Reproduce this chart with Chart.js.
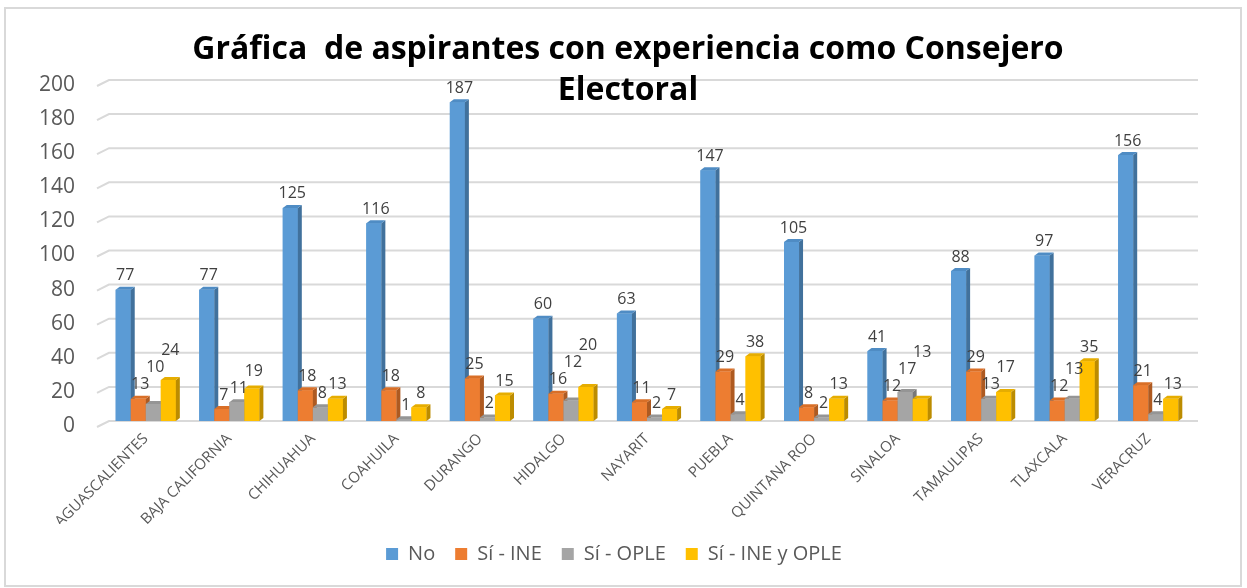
<!DOCTYPE html>
<html>
<head>
<meta charset="utf-8">
<script src="https://cdn.jsdelivr.net/npm/chart.js@4.4.1/dist/chart.umd.min.js"></script>
<style>
  html, body { margin: 0; padding: 0; background: #fff; }
  #wrap { position: relative; width: 1247px; height: 588px; }
</style>
</head>
<body>
<div id="wrap"><canvas id="grafica" width="1247" height="588"></canvas></div>
<script>
const estados = ['AGUASCALIENTES', 'BAJA CALIFORNIA', 'CHIHUAHUA', 'COAHUILA', 'DURANGO', 'HIDALGO',
  'NAYARIT', 'PUEBLA', 'QUINTANA ROO', 'SINALOA', 'TAMAULIPAS', 'TLAXCALA', 'VERACRUZ'];
const serieNo = [77, 77, 125, 116, 187, 60, 63, 147, 105, 41, 88, 97, 156];
const serieIne = [13, 7, 18, 18, 25, 16, 11, 29, 8, 12, 29, 12, 21];
const serieOple = [10, 11, 8, 1, 2, 12, 2, 4, 2, 17, 13, 13, 4];
const serieAmbos = [24, 19, 13, 8, 15, 20, 7, 38, 13, 13, 17, 35, 13];
const nombresSeries = ['No', 'Sí - INE', 'Sí - OPLE', 'Sí - INE y OPLE'];
const tituloLineas = ['Gráfica  de aspirantes con experiencia como Consejero', 'Electoral'];

const colores = ['#5B9BD5', '#ED7D31', '#A5A5A5', '#FFC000'];
const coloresLado = ['#41719C', '#AE5A21', '#787878', '#BC8C00'];
const coloresArriba = ['#4F8CC4', '#D96F27', '#959595', '#E6AD00'];
const FUENTE = "'Open Sans', 'Liberation Sans', sans-serif";

// marco gris alrededor de la grafica
const marco = {
  id: 'marco',
  beforeDraw(chart) {
    const ctx = chart.ctx;
    ctx.save();
    ctx.fillStyle = '#fff';
    ctx.fillRect(0, 0, chart.width, chart.height);
    ctx.strokeStyle = '#d9d9d9';
    ctx.lineWidth = 2;
    ctx.strokeRect(5, 8, 1236, 578);
    ctx.restore();
  }
};

// lineas de division con el pequeño quiebre 3D a la izquierda
const rejilla = {
  id: 'rejilla',
  beforeDatasetsDraw(chart) {
    const ctx = chart.ctx;
    const y = chart.scales.y;
    const area = chart.chartArea;
    ctx.save();
    ctx.strokeStyle = '#d9d9d9';
    ctx.lineWidth = 2;
    y.ticks.forEach(t => {
      const py = y.getPixelForValue(t.value);
      ctx.beginPath();
      ctx.moveTo(area.left - 7, py + 6);
      ctx.lineTo(area.left + 5, py);
      ctx.lineTo(area.right + 8, py);
      ctx.stroke();
    });
    ctx.restore();
  }
};

// barras con cara lateral y superior, dibujadas de izquierda a derecha
const barras3d = {
  id: 'barras3d',
  afterDatasetsDraw(chart) {
    const ctx = chart.ctx;
    const dx = 4, dy = 3;
    const metas = chart.data.datasets.map((d, i) => chart.getDatasetMeta(i));
    ctx.save();
    for (let j = 0; j < estados.length; j++) {
      metas.forEach((meta, i) => {
        const bar = meta.data[j];
        const l = bar.x - bar.width / 2, r = bar.x + bar.width / 2;
        const top = bar.y, base = bar.base;
        ctx.fillStyle = colores[i];
        ctx.fillRect(l, top, r - l, base - top);
        ctx.fillStyle = coloresLado[i];
        ctx.beginPath();
        ctx.moveTo(r, top); ctx.lineTo(r + dx, top - dy);
        ctx.lineTo(r + dx, base - dy); ctx.lineTo(r, base);
        ctx.closePath(); ctx.fill();
        ctx.fillStyle = coloresArriba[i];
        ctx.beginPath();
        ctx.moveTo(l, top); ctx.lineTo(l + dx, top - dy);
        ctx.lineTo(r + dx, top - dy); ctx.lineTo(r, top);
        ctx.closePath(); ctx.fill();
      });
    }
    ctx.restore();
  }
};

// etiquetas de valor encima de cada barra, evitando choques dentro del grupo
const etiquetas = {
  id: 'etiquetas',
  afterDatasetsDraw(chart) {
    const ctx = chart.ctx;
    ctx.save();
    ctx.font = "16px " + FUENTE;
    ctx.fillStyle = '#404040';
    ctx.textAlign = 'center';
    ctx.textBaseline = 'bottom';
    for (let j = 0; j < estados.length; j++) {
      const cajas = [];
      chart.data.datasets.forEach((ds, i) => {
        const bar = chart.getDatasetMeta(i).data[j];
        const txt = String(ds.data[j]);
        const w = ctx.measureText(txt).width;
        const cx = bar.x + 2;
        let yb = bar.y - 6;
        let moved = true;
        while (moved) {
          moved = false;
          for (const c of cajas) {
            if (cx - w / 2 < c.r && cx + w / 2 > c.l && yb > c.t && yb - 16 < c.b) {
              yb = c.t - 1;
              moved = true;
            }
          }
        }
        cajas.push({ l: cx - w / 2 - 1, r: cx + w / 2 + 1, t: yb - 16, b: yb });
        ctx.fillText(txt, cx, yb);
      });
    }
    ctx.restore();
  }
};

const titulo = {
  id: 'titulo',
  afterDraw(chart) {
    const ctx = chart.ctx;
    ctx.save();
    ctx.font = "bold 32px " + FUENTE;
    ctx.fillStyle = '#000';
    ctx.textAlign = 'center';
    ctx.textBaseline = 'middle';
    ctx.fillText(tituloLineas[0], 628, 50);
    ctx.fillText(tituloLineas[1], 628, 91);
    ctx.restore();
  }
};

const datasets = [serieNo, serieIne, serieOple, serieAmbos].map((serie, i) => ({
  label: nombresSeries[i],
  data: serie,
  backgroundColor: colores[i],
  borderWidth: 0,
  categoryPercentage: 0.72,
  barPercentage: 1
}));

new Chart(document.getElementById('grafica'), {
  type: 'bar',
  data: { labels: estados, datasets: datasets },
  options: {
    responsive: false,
    animation: false,
    layout: { padding: { top: 80, right: 38, left: 19, bottom: 14 } },
    scales: {
      y: {
        min: 0,
        max: 200,
        ticks: { stepSize: 20, padding: 21, labelOffset: 5, color: '#595959', font: { family: FUENTE, size: 21 } },
        grid: { display: false },
        border: { display: false },
        afterFit(scale) { scale.width = 85; }
      },
      // eje vacio a la derecha, solo para centrar la leyenda como en el original
      margen: {
        position: 'right',
        ticks: { display: false },
        grid: { display: false },
        border: { display: false },
        afterFit(scale) { scale.width = 19; }
      },
      x: {
        ticks: { minRotation: 45, maxRotation: 45, padding: 1, color: '#595959', font: { family: FUENTE, size: 15 } },
        grid: { display: false },
        border: { display: false },
        afterFit(scale) { scale.height = 103; }
      }
    },
    plugins: {
      title: { display: false },
      tooltip: { enabled: false },
      legend: {
        position: 'bottom',
        labels: { boxWidth: 12, boxHeight: 12, padding: 20, color: '#595959', font: { family: FUENTE, size: 20 } }
      }
    }
  },
  plugins: [marco, rejilla, barras3d, etiquetas, titulo]
});
</script>
</body>
</html>
